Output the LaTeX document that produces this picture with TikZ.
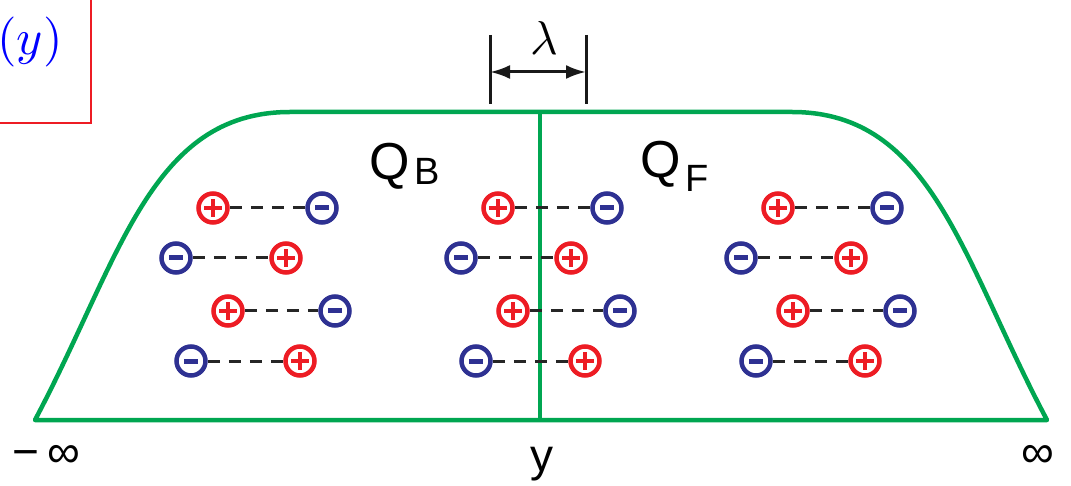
\documentclass[tikz,border=0pt]{standalone}
\usepackage{fontspec}
\setsansfont{Liberation Sans}
\usetikzlibrary{arrows.meta}
\definecolor{fgreen}{RGB}{0,166,81}
\definecolor{ired}{RGB}{237,28,36}
\definecolor{iblue}{RGB}{46,49,146}
\tikzset{
  border/.style={draw=fgreen,line width=4.5pt,line join=round},
  posion/.style={circle,draw=ired,line width=4.5pt,minimum size=29pt,inner sep=0pt,fill=white,
    path picture={\fill[ired] ([xshift=-9pt,yshift=-2.2pt]path picture bounding box.center) rectangle ([xshift=9pt,yshift=2.2pt]path picture bounding box.center);
                  \fill[ired] ([xshift=-2.2pt,yshift=-9pt]path picture bounding box.center) rectangle ([xshift=2.2pt,yshift=9pt]path picture bounding box.center);}},
  negion/.style={circle,draw=iblue,line width=4.5pt,minimum size=29pt,inner sep=0pt,fill=white,
    path picture={\fill[iblue] ([xshift=-7pt,yshift=-2.5pt]path picture bounding box.center) rectangle ([xshift=7pt,yshift=2.5pt]path picture bounding box.center);}},
  dashline/.style={draw=black!85,line width=3pt,dash pattern=on 12pt off 9pt},
  lbl/.style={font=\sffamily\fontsize{46}{50}\selectfont,inner sep=0pt},
  qlbl/.style={font=\sffamily\fontsize{52}{56}\selectfont,inner sep=0pt,anchor=base west},
  bar/.style={draw=black!90,line width=3pt},
}
\begin{document}
\begin{tikzpicture}[x=1pt,y=-1pt]
\useasboundingbox (0,0) rectangle (1071,486);
% red box
\draw[ired,line width=1.5pt] (-20,-20) rectangle (91,123);
\node[text=blue,inner sep=0pt] (rho) at (30,42) {\scalebox{5}{$(y)$}};
% green outline
\draw[border] (35,420) .. controls (120,260) and (150,112) .. (290,112) -- (792,112)
  .. controls (932,112) and (962,260) .. (1047,420) -- cycle;
\coordinate (ytop) at (540,112);
\coordinate (ybot) at (540,420);
\draw[border] (ytop) -- (ybot);
% lambda
\coordinate (l1a) at (490,35); \coordinate (l1b) at (490,104);
\coordinate (l2a) at (586,35); \coordinate (l2b) at (586,104);
\draw[bar] (l1a) -- (l1b);
\draw[bar] (l2a) -- (l2b);
\coordinate (la) at (490,72); \coordinate (lb) at (586,72);
\draw[bar,{Latex[length=20pt,width=14pt]}-{Latex[length=20pt,width=14pt]}] (la) -- (lb);
\node[inner sep=0pt] (lam) at (544,38) {\scalebox{4.75}{$\lambda$}};
% labels
\node[qlbl] (qb) at (369,180) {Q\kern5pt\raisebox{-5pt}{\fontsize{38}{40}\selectfont B}};
\node[qlbl] (qf) at (640,178) {Q\kern5pt\raisebox{-14pt}{\fontsize{38}{40}\selectfont F}};
\node[lbl,anchor=base west] (minf) at (12,467) {−\kern8pt∞};
\node[lbl,anchor=base] (yl) at (542,471) {y};
\node[lbl,anchor=base] (inf) at (1038,467) {∞};
% ions
\foreach \dx/\g in {0/a,285/b,565/c}{
  \node[posion] (p1\g) at (213+\dx,208) {};
  \node[negion] (n1\g) at (322+\dx,208) {};
  \node[negion] (n2\g) at (176+\dx,258) {};
  \node[posion] (p2\g) at (286+\dx,258) {};
  \node[posion] (p3\g) at (228+\dx,311) {};
  \node[negion] (n3\g) at (335+\dx,311) {};
  \node[negion] (n4\g) at (191+\dx,361) {};
  \node[posion] (p4\g) at (300+\dx,361) {};
  \draw[dashline] (p1\g) -- (n1\g);
  \draw[dashline] (n2\g) -- (p2\g);
  \draw[dashline] (p3\g) -- (n3\g);
  \draw[dashline] (n4\g) -- (p4\g);
}
\end{tikzpicture}
\end{document}
